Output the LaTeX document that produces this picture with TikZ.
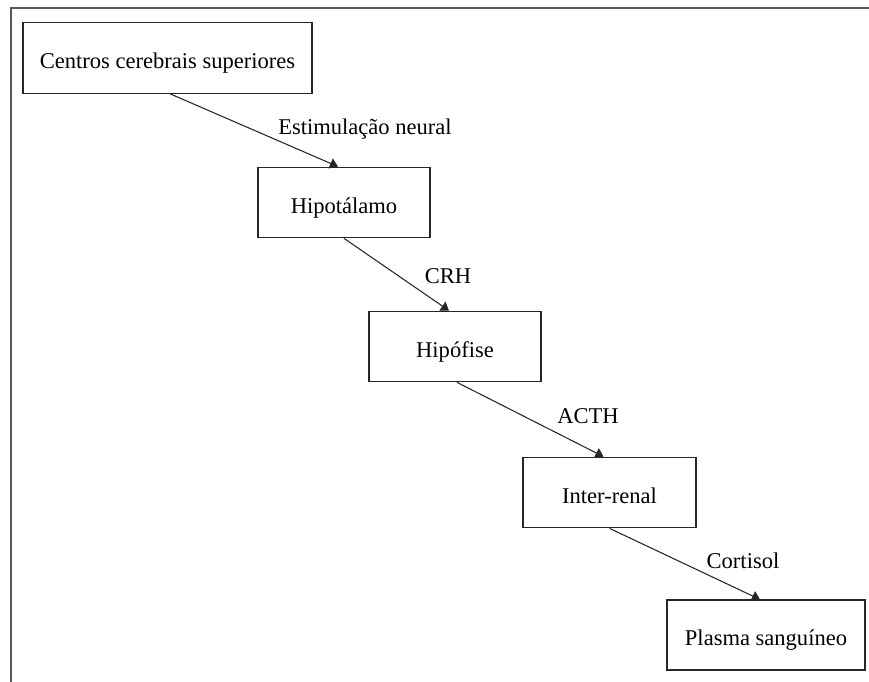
\documentclass[tikz,border=0pt]{standalone}
\usepackage{fontspec}
\setmainfont{Liberation Serif}
\usetikzlibrary{arrows.meta, positioning}

\begin{document}
\begin{tikzpicture}[x=0.75pt, y=-0.75pt]

	% Stil für alle Knoten
	\tikzset{every node/.style={font=\fontsize{16.9pt}{20pt}\selectfont},
		kasten/.style={draw=black!85, line width=0.8pt, minimum height=53pt, inner sep=0pt,
			text height=17pt, text depth=1pt},
		pfeil/.style={draw=black!85, line width=0.8pt, -{Triangle[width=8pt, length=6pt]}}}

	\useasboundingbox (0,0) rectangle (869,682);

	% Rahmen (nur oben und links)
	\draw[line width=1.6pt, black!65] (869,8) -- (11,8) -- (11,682);

	% Kästen
	\node[kasten, minimum width=216.75pt] (zentren) at (167.5,58) {Centros cerebrais superiores};
	\node[kasten, minimum width=129pt] (hypothalamus) at (344,202.5) {Hipotálamo};
	\node[kasten, minimum width=129pt] (hypophyse) at (455,346.5) {Hipófise};
	\node[kasten, minimum width=129.75pt] (interrenal) at (609.5,492.5) {Inter-renal};
	\node[kasten, minimum width=148.5pt, minimum height=52.5pt] (plasma) at (766,635) {Plasma sanguíneo};

	% Pfeile
	\draw[pfeil] ([xshift=2pt]zentren.south) -- ([xshift=-4.5pt]hypothalamus.north);
	\draw[pfeil] (hypothalamus.south) -- ([xshift=-4.5pt]hypophyse.north);
	\draw[pfeil] ([xshift=1.5pt]hypophyse.south) -- ([xshift=-4.5pt]interrenal.north);
	\draw[pfeil] (interrenal.south) -- ([xshift=-4.5pt]plasma.north);

	% Beschriftungen
	\node (neural) at (365,129) {Estimulação neural};
	\node (crh) at (448,276) {CRH};
	\node (acth) at (588,416) {ACTH};
	\node (cortisol) at (743,561) {Cortisol};

\end{tikzpicture}
\end{document}
